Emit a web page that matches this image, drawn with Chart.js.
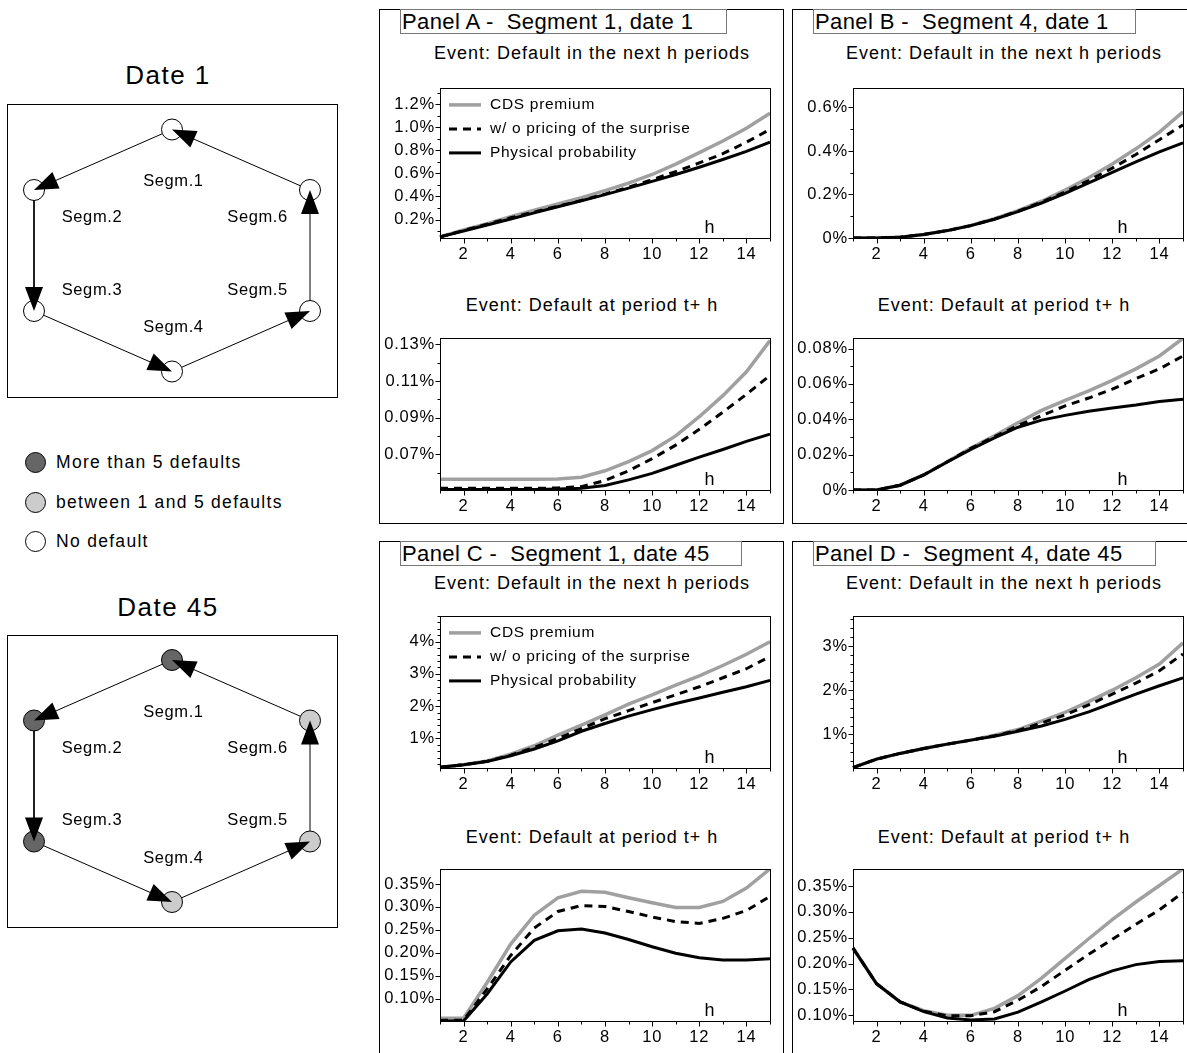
<!DOCTYPE html>
<html>
<head>
<meta charset="utf-8">
<script src="https://cdn.jsdelivr.net/npm/chart.js@4"></script>
<style>
  body { margin: 0; background: #fff; font-family: "Liberation Sans", Arial, sans-serif; color: #000; }
  #page { position: relative; width: 1187px; height: 1053px; overflow: hidden; }
  .box { position: absolute; border: 1px solid #000; box-sizing: border-box; }
  .ptitle { position: absolute; border: 1px solid #777; box-sizing: border-box; font-size: 22px; letter-spacing: 0.4px; line-height: 23px; padding-left: 1px; white-space: pre; }
  .sub { position: absolute; width: 400px; margin-left: -200px; text-align: center; font-size: 18px; letter-spacing: 1px; line-height: 20px; margin-top: -10px; white-space: pre; }
  .date { position: absolute; width: 200px; margin-left: -100px; text-align: center; font-size: 26px; letter-spacing: 1.5px; line-height: 28px; margin-top: -14px; }
  .dot { position: absolute; width: 21px; height: 21px; border: 1px solid #000; border-radius: 50%; box-sizing: border-box; margin: -10px 0 0 -10px; }
  .dtxt { position: absolute; font-size: 17.5px; letter-spacing: 1.3px; line-height: 20px; margin-top: -10px; }
  canvas { position: absolute; }
</style>
</head>
<body>
<div id="page">
  <div class="date" style="left:168px;top:75px">Date 1</div>
  <div class="box" style="left:7px;top:104px;width:331px;height:294px"></div>
  <canvas id="hex1"></canvas>

  <div class="dot" style="left:35px;top:462px;background:#666"></div>
  <div class="dtxt" style="left:56px;top:462px">More than 5 defaults</div>
  <div class="dot" style="left:35px;top:502px;background:#ccc"></div>
  <div class="dtxt" style="left:56px;top:502px">between 1 and 5 defaults</div>
  <div class="dot" style="left:35px;top:541px;background:#fff"></div>
  <div class="dtxt" style="left:56px;top:541px">No default</div>

  <div class="date" style="left:168px;top:607px">Date 45</div>
  <div class="box" style="left:7px;top:635px;width:331px;height:293px"></div>
  <canvas id="hex45"></canvas>

  <div class="box" style="left:379px;top:9px;width:405px;height:515px"></div>
  <div class="box" style="left:792px;top:9px;width:405px;height:515px"></div>
  <div class="box" style="left:379px;top:541px;width:405px;height:520px"></div>
  <div class="box" style="left:792px;top:541px;width:405px;height:520px"></div>

  <div class="ptitle" style="left:400px;top:9px;width:327px;height:25px">Panel A -  Segment 1, date 1</div>
  <div class="ptitle" style="left:813px;top:9px;width:323px;height:25px">Panel B -  Segment 4, date 1</div>
  <div class="ptitle" style="left:400px;top:541px;width:342px;height:25px">Panel C -  Segment 1, date 45</div>
  <div class="ptitle" style="left:813px;top:541px;width:343px;height:25px">Panel D -  Segment 4, date 45</div>

  <div class="sub" style="left:592px;top:53px">Event: Default in the next h periods</div>
  <div class="sub" style="left:1004px;top:53px">Event: Default in the next h periods</div>
  <div class="sub" style="left:592px;top:305px">Event: Default at period t+ h</div>
  <div class="sub" style="left:1004px;top:305px">Event: Default at period t+ h</div>
  <div class="sub" style="left:592px;top:583px">Event: Default in the next h periods</div>
  <div class="sub" style="left:1004px;top:583px">Event: Default in the next h periods</div>
  <div class="sub" style="left:592px;top:837px">Event: Default at period t+ h</div>
  <div class="sub" style="left:1004px;top:837px">Event: Default at period t+ h</div>

  <canvas id="aTop"></canvas><canvas id="aBot"></canvas>
  <canvas id="bTop"></canvas><canvas id="bBot"></canvas>
  <canvas id="cTop"></canvas><canvas id="cBot"></canvas>
  <canvas id="dTop"></canvas><canvas id="dBot"></canvas>
</div>

<script>
// horizon h
var hValues = [1, 2, 3, 4, 5, 6, 7, 8, 9, 10, 11, 12, 13, 14, 15];
var seriesNames = ['CDS premium', 'w/ o pricing of the surprise', 'Physical probability'];

// Panel A - segment 1, date 1 (values in %)
var aCumCds = [0.05, 0.11, 0.165, 0.225, 0.28, 0.335, 0.39, 0.45, 0.515, 0.59, 0.68, 0.78, 0.88, 0.99, 1.12];
var aCumNoSurprise = [0.05, 0.105, 0.16, 0.215, 0.265, 0.315, 0.365, 0.42, 0.48, 0.545, 0.615, 0.69, 0.77, 0.87, 0.98];
var aCumPhysical = [0.05, 0.10, 0.152, 0.205, 0.258, 0.31, 0.362, 0.416, 0.472, 0.53, 0.59, 0.653, 0.72, 0.79, 0.87];
var aAtCds = [0.0563, 0.0563, 0.0563, 0.0563, 0.0563, 0.0565, 0.0575, 0.061, 0.066, 0.072, 0.080, 0.0905, 0.102, 0.115, 0.132];
var aAtNoSurprise = [0.0514, 0.0514, 0.0514, 0.0514, 0.0514, 0.0516, 0.0523, 0.0557, 0.061, 0.0676, 0.075, 0.0836, 0.093, 0.1027, 0.113];
var aAtPhysical = [0.0508, 0.0508, 0.0508, 0.0508, 0.0508, 0.051, 0.0514, 0.053, 0.056, 0.0596, 0.064, 0.0684, 0.0726, 0.077, 0.081];

// Panel B - segment 4, date 1
var bCumCds = [0, 0, 0.004, 0.016, 0.034, 0.058, 0.089, 0.126, 0.169, 0.22, 0.277, 0.34, 0.41, 0.487, 0.58];
var bCumNoSurprise = [0, 0, 0.004, 0.016, 0.034, 0.057, 0.087, 0.123, 0.165, 0.212, 0.264, 0.321, 0.384, 0.452, 0.52];
var bCumPhysical = [0, 0, 0.004, 0.016, 0.034, 0.057, 0.086, 0.121, 0.161, 0.205, 0.253, 0.302, 0.35, 0.396, 0.437];
var bAtCds = [0, 0, 0.0027, 0.0085, 0.016, 0.0237, 0.0307, 0.038, 0.045, 0.0507, 0.056, 0.062, 0.0685, 0.0758, 0.0858];
var bAtNoSurprise = [0, 0, 0.0027, 0.0085, 0.016, 0.0235, 0.0302, 0.0365, 0.042, 0.0476, 0.052, 0.057, 0.063, 0.0685, 0.0758];
var bAtPhysical = [0, 0, 0.0027, 0.0085, 0.0158, 0.023, 0.0295, 0.0355, 0.0395, 0.0422, 0.0445, 0.0464, 0.048, 0.050, 0.0513];

// Panel C - segment 1, date 45
var cCumCds = [0.1, 0.18, 0.3, 0.51, 0.77, 1.1, 1.41, 1.73, 2.06, 2.35, 2.65, 2.94, 3.26, 3.61, 4.0];
var cCumNoSurprise = [0.1, 0.18, 0.29, 0.48, 0.72, 1.0, 1.3, 1.61, 1.86, 2.11, 2.35, 2.6, 2.88, 3.16, 3.54];
var cCumPhysical = [0.1, 0.18, 0.28, 0.46, 0.67, 0.92, 1.22, 1.46, 1.69, 1.89, 2.08, 2.25, 2.43, 2.6, 2.8];
var cAtCds = [0.057, 0.057, 0.135, 0.219, 0.282, 0.32, 0.334, 0.332, 0.32, 0.309, 0.299, 0.299, 0.312, 0.341, 0.383];
var cAtNoSurprise = [0.0525, 0.0525, 0.121, 0.194, 0.254, 0.29, 0.303, 0.301, 0.29, 0.278, 0.268, 0.264, 0.275, 0.292, 0.323];
var cAtPhysical = [0.051, 0.051, 0.11, 0.18, 0.227, 0.248, 0.252, 0.243, 0.229, 0.213, 0.199, 0.189, 0.184, 0.184, 0.187];

// Panel D - segment 4, date 45
var dCumCds = [0.25, 0.44, 0.57, 0.68, 0.78, 0.87, 0.98, 1.11, 1.3, 1.5, 1.74, 2.0, 2.28, 2.59, 3.07];
var dCumNoSurprise = [0.25, 0.44, 0.57, 0.68, 0.78, 0.87, 0.97, 1.09, 1.26, 1.44, 1.67, 1.91, 2.16, 2.44, 2.82];
var dCumPhysical = [0.25, 0.44, 0.57, 0.68, 0.78, 0.87, 0.96, 1.07, 1.19, 1.34, 1.51, 1.71, 1.91, 2.1, 2.28];
var dAtCds = [0.23, 0.161, 0.126, 0.109, 0.10, 0.10, 0.1135, 0.138, 0.172, 0.21, 0.248, 0.285, 0.319, 0.351, 0.383];
var dAtNoSurprise = [0.23, 0.161, 0.126, 0.108, 0.099, 0.099, 0.107, 0.129, 0.156, 0.187, 0.218, 0.247, 0.276, 0.304, 0.337];
var dAtPhysical = [0.23, 0.161, 0.126, 0.107, 0.095, 0.091, 0.093, 0.106, 0.126, 0.147, 0.169, 0.186, 0.198, 0.204, 0.2055];

// labelled y ticks of each plot
var aCumTicks = [0.2, 0.4, 0.6, 0.8, 1.0, 1.2];
var aAtTicks = [0.07, 0.09, 0.11, 0.13];
var bCumTicks = [0, 0.2, 0.4, 0.6];
var bAtTicks = [0, 0.02, 0.04, 0.06, 0.08];
var cCumTicks = [1, 2, 3, 4];
var cAtTicks = [0.10, 0.15, 0.20, 0.25, 0.30, 0.35];
var dCumTicks = [1, 2, 3];
var dAtTicks = [0.10, 0.15, 0.20, 0.25, 0.30, 0.35];

// hexagon: segments 1..6 in the direction of the arrows
var segNames = ['Segm.1', 'Segm.2', 'Segm.3', 'Segm.4', 'Segm.5', 'Segm.6'];
var nodeX = [0, -1, -1, 0, 1, 1];
var nodeY = [1, 0.5, -0.5, -1, -0.5, 0.5];
var date1Fill = ['#fff', '#fff', '#fff', '#fff', '#fff', '#fff'];
var date45Fill = ['#666', '#666', '#666', '#ccc', '#ccc', '#ccc'];


var FONT = '"Liberation Sans", Arial, sans-serif';
var GRAY = '#a0a0a0';
var YW = 62, XH = 30, PT = 8, PR = 6;

function crisp(v) { return Math.round(v) + 0.5; }

var framePlugin = {
  id: 'frame',
  beforeDraw: function (chart) {
    chart.ctx.letterSpacing = '0.8px';
  },
  afterDraw: function (chart) {
    var ctx = chart.ctx, a = chart.chartArea, o = chart.options.plugins.frame;
    var xs = chart.scales.x, ys = chart.scales.y;
    ctx.save();
    ctx.strokeStyle = '#000';
    ctx.lineWidth = 1;
    var l = crisp(a.left), r = crisp(a.right), t = crisp(a.top), b = crisp(a.bottom);
    ctx.strokeRect(l, t, r - l, b - t);
    ctx.beginPath();
    for (var i = 0; i < hValues.length; i++) {
      var px = crisp(xs.getPixelForTick(i));
      var len = hValues[i] % 2 === 0 ? 5 : 3;
      ctx.moveTo(px, b); ctx.lineTo(px, b + len);
    }
    ys.ticks.forEach(function (tk) {
      var py = crisp(ys.getPixelForValue(tk.value));
      var len = isMajor(tk.value, o.labels) ? 5 : 3;
      ctx.moveTo(l, py); ctx.lineTo(l - len, py);
    });
    ctx.stroke();

    // "h" inside the plot
    ctx.fillStyle = '#000';
    ctx.font = '18px ' + FONT;
    ctx.textAlign = 'center';
    ctx.textBaseline = 'middle';
    ctx.fillText('h', xs.getPixelForValue(11.45), a.bottom - 10);

    if (o.legend) {
      var sets = chart.data.datasets;
      ctx.font = '15.5px ' + FONT;
      ctx.letterSpacing = '0.7px';
      ctx.textAlign = 'left';
      for (var k = 0; k < sets.length; k++) {
        var y = a.top + 17 + k * 24;
        ctx.beginPath();
        ctx.strokeStyle = sets[k].borderColor;
        ctx.lineWidth = sets[k].borderWidth;
        ctx.setLineDash(sets[k].borderDash || []);
        ctx.moveTo(a.left + 9, y); ctx.lineTo(a.left + 41, y);
        ctx.stroke();
        ctx.setLineDash([]);
        ctx.fillText(sets[k].label, a.left + 50, y);
      }
    }
    ctx.restore();
  }
};

function isMajor(v, labels) {
  for (var i = 0; i < labels.length; i++) if (Math.abs(labels[i] - v) < 1e-7) return true;
  return false;
}

function fmt(v, dec) {
  if (Math.abs(v) < 1e-9) return '0%';
  return v.toFixed(dec) + '%';
}

function lineChart(id, plot, cds, noSurprise, physical, yMin, yMax, minorStep, labels, dec, legend) {
  var cv = document.getElementById(id);
  var w = plot.r - plot.l + YW + PR, h = plot.b - plot.t + PT + XH;
  cv.width = w; cv.height = h;
  cv.style.left = (plot.l - YW) + 'px';
  cv.style.top = (plot.t - PT) + 'px';
  cv.style.width = w + 'px'; cv.style.height = h + 'px';

  return new Chart(cv.getContext('2d'), {
    type: 'line',
    data: {
      labels: hValues,
      datasets: [
        { label: seriesNames[0], data: cds, borderColor: GRAY, borderWidth: 3.5, pointRadius: 0, tension: 0, order: 3 },
        { label: seriesNames[1], data: noSurprise, borderColor: '#000', borderWidth: 3, borderDash: [8, 6], pointRadius: 0, tension: 0, order: 2 },
        { label: seriesNames[2], data: physical, borderColor: '#000', borderWidth: 3, pointRadius: 0, tension: 0, order: 1 }
      ]
    },
    options: {
      responsive: false,
      maintainAspectRatio: false,
      animation: false,
      layout: { autoPadding: false, padding: { top: PT, right: PR, left: 0, bottom: 0 } },
      plugins: {
        legend: { display: false },
        tooltip: { enabled: false },
        frame: { labels: labels, legend: legend }
      },
      scales: {
        x: {
          type: 'category',
          grid: { display: true, drawOnChartArea: false, drawTicks: false },
          border: { display: false },
          ticks: {
            autoSkip: false, maxRotation: 0, padding: 7, color: '#000',
            font: { family: FONT, size: 16.5 },
            callback: function (v, i) { return hValues[i] % 2 === 0 ? String(hValues[i]) : ''; }
          },
          afterFit: function (s) { s.height = XH; }
        },
        y: {
          min: yMin, max: yMax,
          grid: { display: true, drawOnChartArea: false, drawTicks: false },
          border: { display: false },
          ticks: {
            autoSkip: false, padding: 5, color: '#000',
            font: { family: FONT, size: 16.5 },
            callback: function (v) { return isMajor(v, labels) ? fmt(v, dec) : ''; }
          },
          afterBuildTicks: function (s) {
            var list = [];
            var k0 = Math.ceil(yMin / minorStep - 1e-6), k1 = Math.floor(yMax / minorStep + 1e-6);
            for (var k = k0; k <= k1; k++) list.push({ value: Math.round(k * minorStep * 1e6) / 1e6 });
            s.ticks = list;
          },
          afterFit: function (s) { s.width = YW; }
        }
      }
    },
    plugins: [framePlugin]
  });
}

lineChart('aTop', { l: 440, t: 81, r: 771, b: 238 }, aCumCds, aCumNoSurprise, aCumPhysical, 0.04, 1.34, 0.1, aCumTicks, 1, true);
lineChart('aBot', { l: 440, t: 331, r: 771, b: 490 }, aAtCds, aAtNoSurprise, aAtPhysical, 0.0505, 0.1335, 0.01, aAtTicks, 2, false);
lineChart('bTop', { l: 853, t: 81, r: 1184, b: 238 }, bCumCds, bCumNoSurprise, bCumPhysical, 0, 0.69, 0.1, bCumTicks, 1, false);
lineChart('bBot', { l: 853, t: 331, r: 1184, b: 490 }, bAtCds, bAtNoSurprise, bAtPhysical, 0, 0.086, 0.01, bAtTicks, 2, false);
lineChart('cTop', { l: 440, t: 609, r: 771, b: 768 }, cCumCds, cCumNoSurprise, cCumPhysical, 0.08, 4.8, 0.2, cCumTicks, 0, true);
lineChart('cBot', { l: 440, t: 862, r: 771, b: 1021 }, cAtCds, cAtNoSurprise, cAtPhysical, 0.051, 0.383, 0.05, cAtTicks, 2, false);
lineChart('dTop', { l: 853, t: 609, r: 1184, b: 768 }, dCumCds, dCumNoSurprise, dCumPhysical, 0.24, 3.68, 0.2, dCumTicks, 0, false);
lineChart('dBot', { l: 853, t: 862, r: 1184, b: 1021 }, dAtCds, dAtNoSurprise, dAtPhysical, 0.089, 0.383, 0.05, dAtTicks, 2, false);


// Hexagon diagrams
var segLabelX = [0.01, -0.58, -0.58, 0.01, 0.62, 0.62];
var segLabelY = [0.57, 0.27, -0.33, -0.64, -0.33, 0.27];

var hexPlugin = {
  id: 'hex',
  afterDatasetsDraw: function (chart) {
    var ctx = chart.ctx, xs = chart.scales.x, ys = chart.scales.y;
    ctx.save();
    ctx.fillStyle = '#000';
    for (var i = 0; i < nodeX.length; i++) {
      var j = (i + 1) % nodeX.length;
      var x0 = xs.getPixelForValue(nodeX[i]), y0 = ys.getPixelForValue(nodeY[i]);
      var x1 = xs.getPixelForValue(nodeX[j]), y1 = ys.getPixelForValue(nodeY[j]);
      var d = Math.hypot(x1 - x0, y1 - y0), ux = (x1 - x0) / d, uy = (y1 - y0) / d;
      var bx = x1 - ux * 24, by = y1 - uy * 24;
      ctx.beginPath();
      ctx.moveTo(x1, y1);
      ctx.lineTo(bx - uy * 9, by + ux * 9);
      ctx.lineTo(bx + uy * 9, by - ux * 9);
      ctx.closePath();
      ctx.fill();
    }
    ctx.font = '16.5px ' + FONT;
    ctx.letterSpacing = '0.6px';
    ctx.textAlign = 'center';
    ctx.textBaseline = 'middle';
    for (var k = 0; k < segNames.length; k++) {
      ctx.fillText(segNames[k], xs.getPixelForValue(segLabelX[k]), ys.getPixelForValue(segLabelY[k]));
    }
    ctx.restore();
  }
};

function hexChart(id, left, top, w, h, fills) {
  var cv = document.getElementById(id);
  cv.width = w; cv.height = h;
  cv.style.left = left + 'px'; cv.style.top = top + 'px';
  cv.style.width = w + 'px'; cv.style.height = h + 'px';
  var nodes = nodeX.map(function (x, i) { return { x: x, y: nodeY[i] }; });
  var ring = nodes.concat([nodes[0]]);
  return new Chart(cv.getContext('2d'), {
    type: 'scatter',
    data: {
      datasets: [
        { data: ring, showLine: true, borderColor: '#000', borderWidth: 1, pointRadius: 0, order: 2 },
        { data: nodes, showLine: false, pointRadius: 10.5, pointBackgroundColor: fills, pointBorderColor: '#000', pointBorderWidth: 1, order: 1 }
      ]
    },
    options: {
      responsive: false,
      maintainAspectRatio: false,
      animation: false,
      layout: { autoPadding: false, padding: 0 },
      plugins: { legend: { display: false }, tooltip: { enabled: false } },
      scales: {
        x: { display: false, min: -w / 2 / 138, max: w / 2 / 138 },
        y: { display: false, min: -h / 2 / 121, max: h / 2 / 121 }
      }
    },
    plugins: [hexPlugin]
  });
}

hexChart('hex1', 7, 104, 330, 293, date1Fill);
hexChart('hex45', 7, 635, 330, 292, date45Fill);
</script>
</body>
</html>
